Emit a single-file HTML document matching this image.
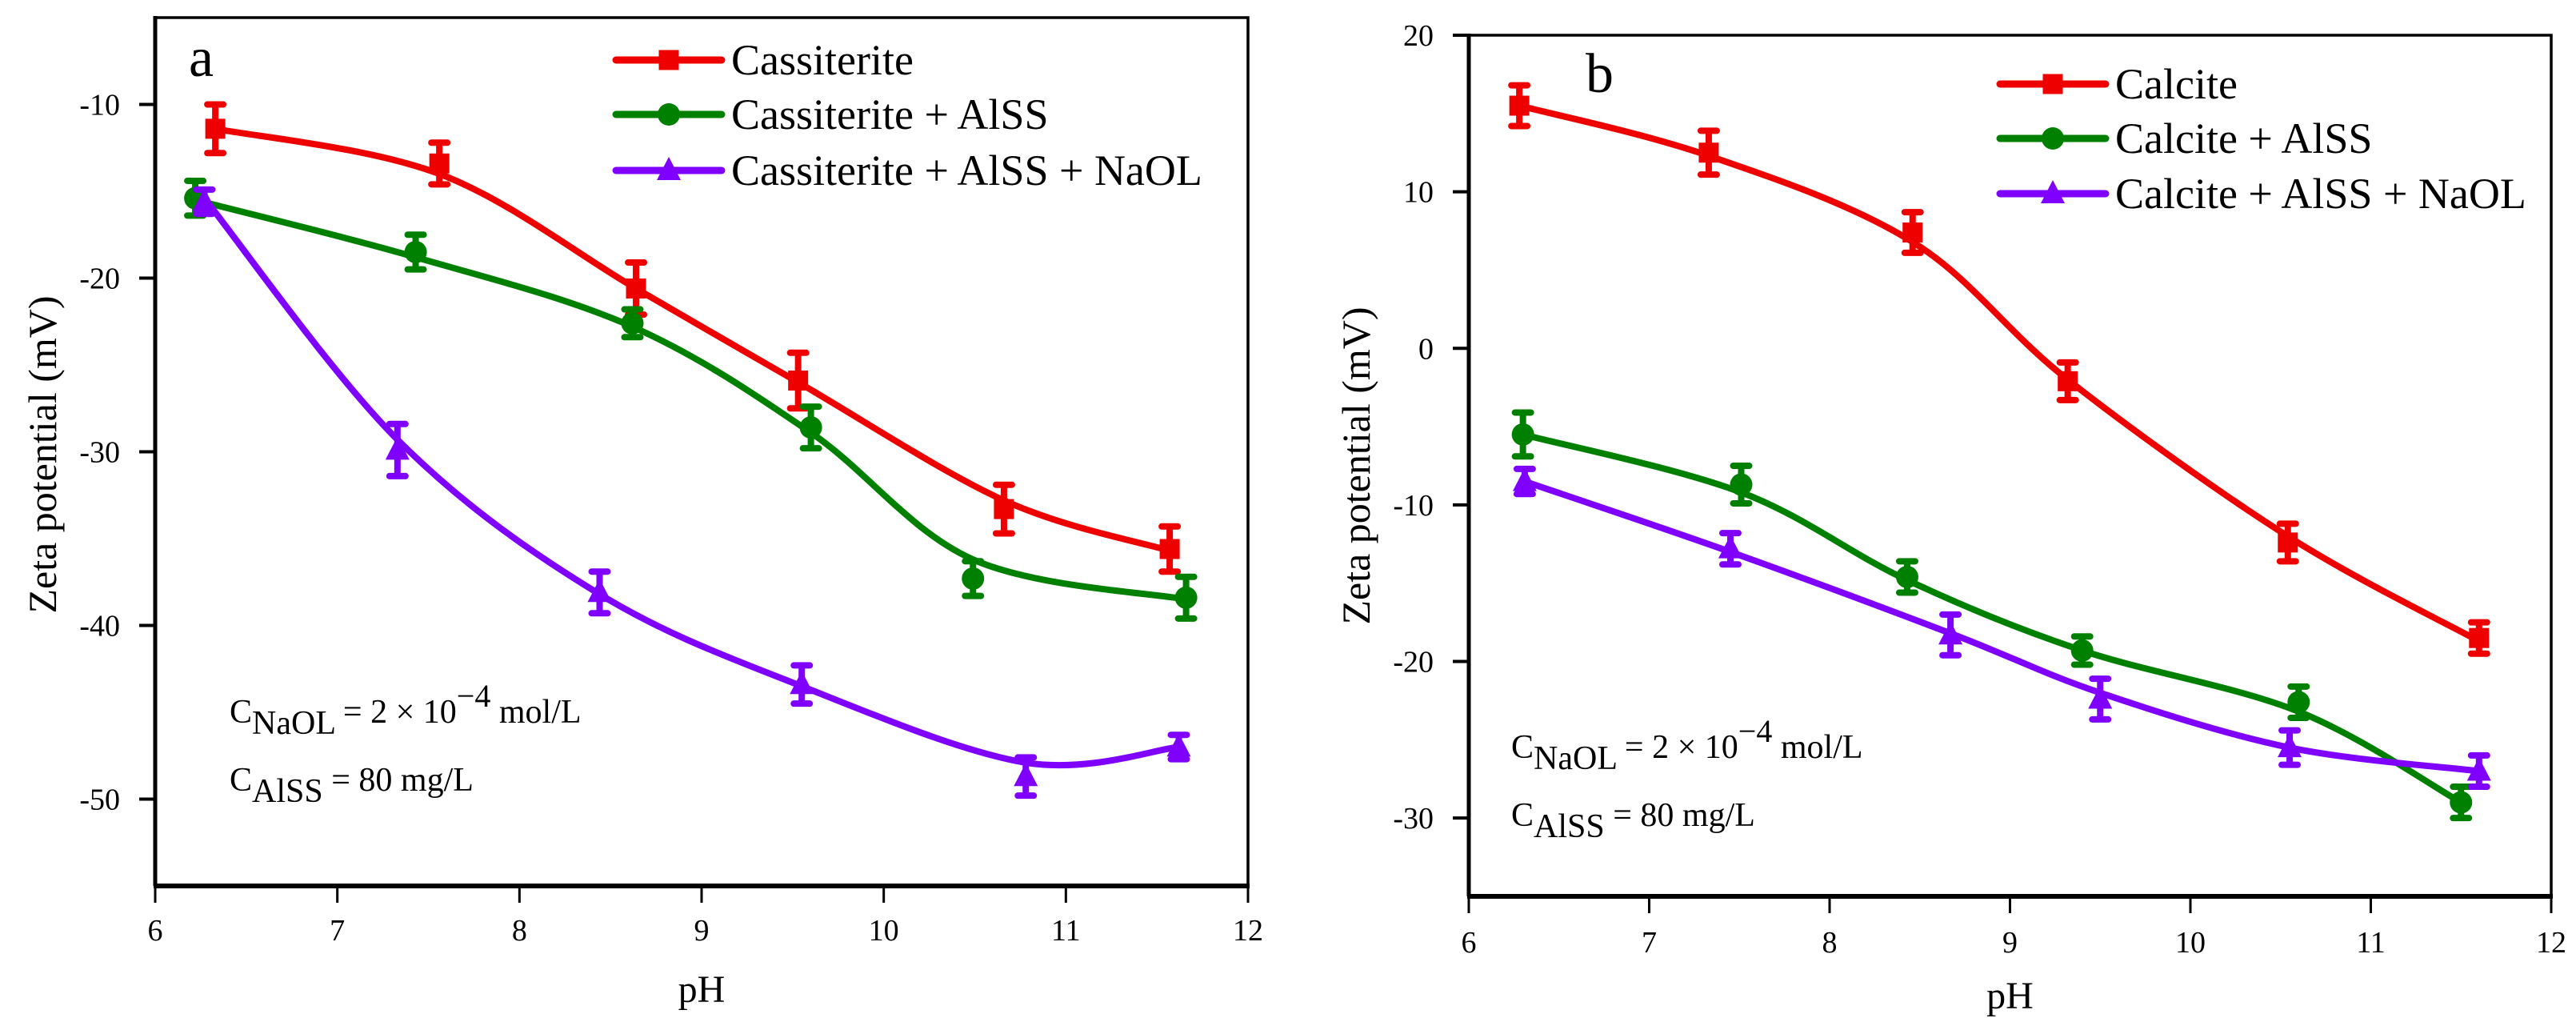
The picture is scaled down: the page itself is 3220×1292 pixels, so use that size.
<!DOCTYPE html>
<html><head><meta charset="utf-8"><style>
html,body{margin:0;padding:0;background:#fff;}
svg, svg text{font-family:"Liberation Serif","DejaVu Serif",serif;}
</style></head><body>
<svg id="chart" width="3220" height="1292" viewBox="0 0 3220 1292" xmlns="http://www.w3.org/2000/svg" font-family="Liberation Serif, DejaVu Serif, serif" style="display:block">
</svg>
<script>
// ---- Panel a data ----
const phA_red = [6.33, 7.56, 8.64, 9.53, 10.66, 11.57];
const valA_red = [-11.4, -13.4, -20.6, -25.9, -33.3, -35.6];
const fitA_red = [-11.4, -14.0, -20.6, -26.0, -32.8, -35.7];
const errA_red = [1.4, 1.2, 1.5, 1.6, 1.4, 1.3];
const phA_green = [6.22, 7.43, 8.62, 9.6, 10.49, 11.66];
const valA_green = [-15.4, -18.5, -22.6, -28.6, -37.3, -38.4];
const fitA_green = [-15.5, -18.8, -22.8, -28.9, -36.2, -38.5];
const errA_green = [1.0, 1.0, 0.8, 1.2, 1.0, 1.2];
const phA_purple = [6.27, 7.33, 8.44, 9.55, 10.78, 11.62];
const valA_purple = [-15.6, -29.9, -38.1, -43.4, -48.7, -47.0];
const fitA_purple = [-15.4, -29.3, -38.2, -43.5, -47.9, -47.0];
const errA_purple = [0.7, 1.5, 1.2, 1.1, 1.1, 0.7];
// ---- Panel b data ----
const phB_red = [6.28, 7.33, 8.46, 9.32, 10.54, 11.6];
const valB_red = [15.5, 12.5, 7.4, -2.1, -12.4, -18.5];
const fitB_red = [15.5, 12.3, 6.8, -2.0, -12.0, -18.7];
const errB_red = [1.3, 1.4, 1.3, 1.2, 1.2, 1.0];
const phB_green = [6.3, 7.51, 8.43, 9.4, 10.6, 11.5];
const valB_green = [-5.5, -8.7, -14.6, -19.3, -22.6, -29.0];
const fitB_green = [-5.5, -9.2, -14.8, -19.3, -23.2, -29.0];
const errB_green = [1.4, 1.2, 1.0, 0.9, 1.0, 1.0];
const phB_purple = [6.31, 7.45, 8.67, 9.5, 10.55, 11.6];
const valB_purple = [-8.5, -12.8, -18.3, -22.4, -25.5, -27.0];
const fitB_purple = [-8.5, -13.0, -18.2, -22.0, -25.5, -27.0];
const errB_purple = [0.8, 1.0, 1.3, 1.3, 1.1, 1.0];
// ---- ticks ----
const xTicks = [6, 7, 8, 9, 10, 11, 12];
const yTicksA = [-10, -20, -30, -40, -50];
const yTicksB = [20, 10, 0, -10, -20, -30];
const legendA = ["Cassiterite", "Cassiterite + AlSS", "Cassiterite + AlSS + NaOL"];
const legendB = ["Calcite", "Calcite + AlSS", "Calcite + AlSS + NaOL"];

const NS = "http://www.w3.org/2000/svg";
const svg = document.getElementById('chart');
const RED = "#ee0000", GREEN = "#008000", PURPLE = "#7f00ff";
const FONT = '"Liberation Serif", "DejaVu Serif", serif';

function mk(tag, attrs, parent) {
  const e = document.createElementNS(NS, tag);
  for (const k in attrs) e.setAttribute(k, attrs[k]);
  (parent || svg).appendChild(e);
  return e;
}
function spline(pts) {
  let d = "M" + pts[0][0] + "," + pts[0][1];
  for (let i = 0; i < pts.length - 1; i++) {
    const p0 = pts[Math.max(0, i - 1)], p1 = pts[i], p2 = pts[i + 1], p3 = pts[Math.min(pts.length - 1, i + 2)];
    const t = 6;
    const c1x = p1[0] + (p2[0] - p0[0]) / t, c1y = p1[1] + (p2[1] - p0[1]) / t;
    const c2x = p2[0] - (p3[0] - p1[0]) / t, c2y = p2[1] - (p3[1] - p1[1]) / t;
    d += " C" + c1x + "," + c1y + " " + c2x + "," + c2y + " " + p2[0] + "," + p2[1];
  }
  return d;
}
function marker(g, shape, x, y, color) {
  let m;
  if (shape === 'square') m = mk('rect', {x: x - 12.5, y: y - 12.5, width: 25, height: 25, fill: color}, g);
  else if (shape === 'circle') m = mk('circle', {cx: x, cy: y, r: 14, fill: color}, g);
  else m = mk('polygon', {points: (x) + "," + (y - 17) + " " + (x - 15) + "," + (y + 12) + " " + (x + 15) + "," + (y + 12), fill: color}, g);
  return m;
}
function txt(parent, attrs) {
  attrs['font-family'] = FONT;
  return mk('text', attrs, parent);
}

function panel(cfg) {
  const {L, R, T, B, xmin, xmax, ymin, ymax, id} = cfg;
  const sx = v => L + (v - xmin) / (xmax - xmin) * (R - L);
  const sy = v => B - (v - ymin) / (ymax - ymin) * (B - T);
  const g = mk('g', {'font-family': FONT});
  
  

  cfg.series.forEach(s => {
    const sg = mk('g', {}, g);
    
    
    const pts = s.ph.map((p, i) => [sx(p), sy(s.fit[i])]);
    const path = mk('path', {d: spline(pts), fill: 'none', stroke: s.color, 'stroke-width': 8, 'stroke-linejoin': 'round', 'stroke-linecap': 'round'}, sg);
    
    
    s.ph.forEach((p, i) => {
      const x = sx(p), y = sy(s.val[i]);
      const y1 = sy(s.val[i] + s.err[i]), y2 = sy(s.val[i] - s.err[i]);
      const eb = mk('path', {d: "M" + x + "," + y1 + " V" + y2 + " M" + (x - 10) + "," + y1 + " H" + (x + 10) + " M" + (x - 10) + "," + y2 + " H" + (x + 10), stroke: s.color, 'stroke-width': 8, 'stroke-linecap': 'round', fill: 'none'}, sg);
      
      
      const m = marker(sg, s.shape, x, y, s.color);
      
      
    });
  });

  const fr = mk('rect', {x: L, y: T, width: R - L, height: B - T, fill: 'none', stroke: '#000', 'stroke-width': 3.5}, g);
  
  
  const xa = mk('line', {x1: L - 2, x2: R + 2, y1: B, y2: B, stroke: '#000', 'stroke-width': 6}, g);
  
  
  const ya = mk('line', {x1: L, x2: L, y1: T - 2, y2: B, stroke: '#000', 'stroke-width': 5}, g);
  
  

  xTicks.forEach(t => {
    const x = sx(t);
    const tk = mk('line', {x1: x, x2: x, y1: B, y2: B + 21, stroke: '#000', 'stroke-width': 3}, g);
    
    
    const lb = txt(g, {x: x, y: cfg.xLabY, 'font-size': 38, 'text-anchor': 'middle', fill: '#000'});
    lb.textContent = t;
    
    
  });
  cfg.yTicks.forEach(t => {
    const y = sy(t);
    const tk = mk('line', {x1: L - 20, x2: L, y1: y, y2: y, stroke: '#000', 'stroke-width': 4}, g);
    
    
    const lb = txt(g, {x: L - 44, y: y + 13, 'font-size': 38, 'text-anchor': 'end', fill: '#000'});
    lb.textContent = t;
    
    
  });

  const xt = txt(g, {x: (L + R) / 2, y: cfg.xTitleY, 'font-size': 48, 'text-anchor': 'middle'});
  xt.textContent = 'pH';
  
  
  const yt = txt(g, {x: 0, y: 0, 'font-size': 50, 'text-anchor': 'middle', transform: 'translate(' + cfg.yTitleX + ',' + cfg.yTitleY + ') rotate(-90)'});
  yt.textContent = 'Zeta potential (mV)';
  
  

  const pl = txt(g, {x: cfg.lblX, y: cfg.lblY, 'font-size': 70});
  pl.textContent = id;
  
  

  cfg.series.forEach((s, i) => {
    const y = cfg.legY[i];
    const lg = mk('g', {}, g);
    
    
    mk('line', {x1: cfg.legX, x2: cfg.legX + 132, y1: y, y2: y, stroke: s.color, 'stroke-width': 9, 'stroke-linecap': 'round'}, lg);
    marker(lg, s.shape, cfg.legX + 66, y, s.color);
    const tx = txt(lg, {x: cfg.legX + 144, y: y + 18, 'font-size': 54});
    tx.textContent = cfg.legend[i];
  });

  const an = txt(g, {x: cfg.annX, y: cfg.annY, 'font-size': 42});
  
  
  an.innerHTML = 'C<tspan dy="14">NaOL</tspan><tspan dy="-14"> = 2 × 10</tspan><tspan dy="-20" font-size="40">−4</tspan><tspan dy="20"> mol/L</tspan>';
  const an2 = txt(g, {x: cfg.annX, y: cfg.annY + 85, 'font-size': 42});
  
  
  an2.innerHTML = 'C<tspan dy="14">AlSS</tspan><tspan dy="-14"> = 80 mg/L</tspan>';
}

panel({
  id: 'a', L: 194, R: 1560, T: 22, B: 1107, xmin: 6, xmax: 12, ymin: -55, ymax: -5,
  yTicks: yTicksA, xLabY: 1175, xTitleY: 1252, yTitleX: 70, yTitleY: 568,
  lblX: 236, lblY: 95, legX: 770, legY: [75, 143, 213], legend: legendA,
  annX: 287, annY: 903,
  series: [
    {key: 'cassiterite', ph: phA_red, val: valA_red, fit: fitA_red, err: errA_red, color: RED, shape: 'square'},
    {key: 'cassiterite-alss', ph: phA_green, val: valA_green, fit: fitA_green, err: errA_green, color: GREEN, shape: 'circle'},
    {key: 'cassiterite-alss-naol', ph: phA_purple, val: valA_purple, fit: fitA_purple, err: errA_purple, color: PURPLE, shape: 'triangle'}
  ]
});
panel({
  id: 'b', L: 1836, R: 3189, T: 44, B: 1120, xmin: 6, xmax: 12, ymin: -35, ymax: 20,
  yTicks: yTicksB, xLabY: 1190, xTitleY: 1260, yTitleX: 1712, yTitleY: 582,
  lblX: 1982, lblY: 115, legX: 2500, legY: [105, 173, 242], legend: legendB,
  annX: 1889, annY: 947,
  series: [
    {key: 'calcite', ph: phB_red, val: valB_red, fit: fitB_red, err: errB_red, color: RED, shape: 'square'},
    {key: 'calcite-alss', ph: phB_green, val: valB_green, fit: fitB_green, err: errB_green, color: GREEN, shape: 'circle'},
    {key: 'calcite-alss-naol', ph: phB_purple, val: valB_purple, fit: fitB_purple, err: errB_purple, color: PURPLE, shape: 'triangle'}
  ]
});
</script>
</body></html>
